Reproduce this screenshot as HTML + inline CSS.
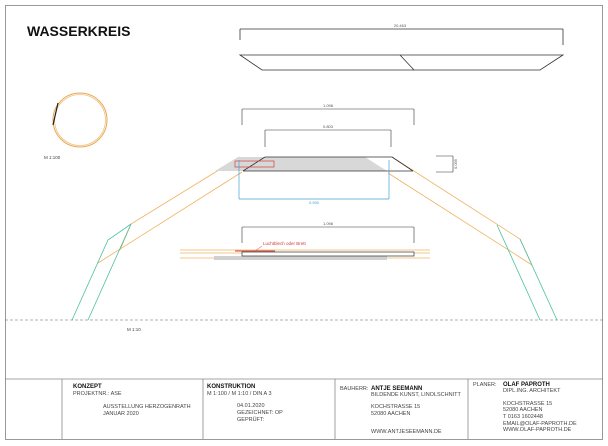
<!DOCTYPE html>
<html><head><meta charset="utf-8"><style>
body{margin:0;background:#fff;}
svg{display:block;font-family:"Liberation Sans",sans-serif;}
.s{font-size:5.5px;fill:#444;}
.b{font-size:6px;font-weight:bold;fill:#111;}
</style></head><body>
<svg width="608" height="446" viewBox="0 0 608 446">
<rect x="5.5" y="5.5" width="597" height="434" fill="none" stroke="#999" stroke-width="1"/>
<text x="27" y="36" font-size="14" font-weight="bold" fill="#111">WASSERKREIS</text>

<!-- top view parallelogram -->
<g stroke="#333" stroke-width="0.8" fill="none">
<line x1="240" y1="29" x2="563" y2="29"/>
<line x1="563" y1="29" x2="563" y2="45"/>
<line x1="240" y1="29" x2="240" y2="40"/>
<polygon points="240,55 563,55 540,70 262,70"/>
<line x1="400" y1="55" x2="414" y2="70"/>
</g>
<text x="400" y="27" font-size="4" fill="#555" text-anchor="middle">20.463</text>

<!-- circle -->
<circle cx="80" cy="120" r="27" fill="none" stroke="#e8a850" stroke-width="1"/>
<circle cx="80" cy="120" r="25.5" fill="none" stroke="#f0c080" stroke-width="0.8"/>
<line x1="58" y1="103" x2="53" y2="125" stroke="#222" stroke-width="1.2"/>
<text x="44" y="159" font-size="4.5" fill="#444">M 1:100</text>

<!-- dimensions -->
<g stroke="#333" stroke-width="0.6" fill="none">
<line x1="242" y1="109" x2="414" y2="109"/><line x1="242" y1="109" x2="242" y2="125"/><line x1="414" y1="109" x2="414" y2="125"/>
<line x1="265" y1="130" x2="391" y2="130"/><line x1="265" y1="130" x2="265" y2="147"/><line x1="391" y1="130" x2="391" y2="147"/>
<line x1="242" y1="227" x2="414" y2="227"/><line x1="242" y1="227" x2="242" y2="243"/><line x1="414" y1="227" x2="414" y2="243"/>
<line x1="436" y1="156" x2="453" y2="156"/><line x1="436" y1="172" x2="453" y2="172"/><line x1="453" y1="156" x2="453" y2="172"/>
</g>
<text x="328" y="107" font-size="4" fill="#555" text-anchor="middle">1.098</text>
<text x="328" y="128" font-size="4" fill="#555" text-anchor="middle">0.803</text>
<text x="328" y="225" font-size="4" fill="#555" text-anchor="middle">1.098</text>
<text x="457" y="164" font-size="4" fill="#555" transform="rotate(-90 457 164)" text-anchor="middle">0.095</text>

<!-- legs -->
<g fill="none" stroke-width="0.8">
<polyline points="240,157 131,224 120,250" stroke="#f0b060"/>
<line x1="242" y1="172" x2="98" y2="263" stroke="#f0b060"/>
<polyline points="72,320 108,240 131,224" stroke="#4cc0a0"/>
<line x1="88" y1="320" x2="131" y2="224" stroke="#4cc0a0"/>
<polyline points="392,157 520,239 532,265" stroke="#f0b060"/>
<line x1="388" y1="173" x2="532" y2="265" stroke="#f0b060"/>
<line x1="497" y1="225" x2="540" y2="320" stroke="#4cc0a0"/>
<line x1="520" y1="239" x2="557" y2="320" stroke="#4cc0a0"/>
</g>

<!-- plate section -->
<polygon points="238,157 365,157 387,171 215,171" fill="#d8d8d8"/>
<g stroke="#333" stroke-width="0.8" fill="none">
<line x1="265" y1="157" x2="392" y2="157"/>
<line x1="243" y1="171" x2="413" y2="171"/>
<line x1="265" y1="157" x2="243" y2="171"/>
<line x1="392" y1="157" x2="413" y2="171"/>
</g>
<rect x="235" y="161" width="39" height="6" fill="none" stroke="#d04040" stroke-width="0.7"/>
<g stroke="#40a0d0" stroke-width="0.7" fill="none">
<line x1="239" y1="160" x2="239" y2="199"/><line x1="389" y1="160" x2="389" y2="199"/>
<line x1="239" y1="199" x2="389" y2="199"/>
</g>
<text x="314" y="204" font-size="4" fill="#40a0d0" text-anchor="middle">0.930</text>

<!-- lower section -->
<g stroke="#f0b060" stroke-width="0.7">
<line x1="180" y1="250" x2="430" y2="250"/>
<line x1="180" y1="253" x2="430" y2="253"/>
<line x1="180" y1="258" x2="430" y2="258"/>
</g>
<rect x="214" y="256" width="173" height="4" fill="#d0d0d0"/>
<rect x="242" y="252" width="172" height="4" fill="#fff" stroke="#333" stroke-width="0.7"/>
<line x1="235" y1="251" x2="275" y2="251" stroke="#d04040" stroke-width="1"/>
<line x1="255" y1="251" x2="262" y2="246" stroke="#d04040" stroke-width="0.5"/>
<text x="263" y="245" font-size="4.5" fill="#d04040">Luchtblech oder Brett</text>

<line x1="5" y1="320" x2="603" y2="320" stroke="#666" stroke-width="0.6" stroke-dasharray="3,2"/>
<text x="127" y="331" font-size="4.5" fill="#444">M 1:10</text>

<!-- title block -->
<g stroke="#888" stroke-width="0.8">
<line x1="5" y1="379" x2="603" y2="379"/>
<line x1="62" y1="379" x2="62" y2="439"/>
<line x1="203" y1="379" x2="203" y2="439"/>
<line x1="335" y1="379" x2="335" y2="439"/>
<line x1="468" y1="379" x2="468" y2="439"/>
</g>
<text x="73" y="388" class="b">KONZEPT</text>
<text x="73" y="395" class="s">PROJEKTNR.: ASE</text>
<text x="103" y="408" class="s">AUSSTELLUNG HERZOGENRATH</text>
<text x="103" y="415" class="s">JANUAR 2020</text>
<text x="207" y="388" class="b">KONSTRUKTION</text>
<text x="207" y="395" class="s">M 1:100 / M 1:10 / DIN A 3</text>
<text x="237" y="407" class="s">04.01.2020</text>
<text x="237" y="414" class="s">GEZEICHNET: OP</text>
<text x="237" y="421" class="s">GEPRÜFT:</text>
<text x="340" y="390" class="s">BAUHERR:</text>
<text x="371" y="390" class="b">ANTJE SEEMANN</text>
<text x="371" y="396" class="s">BILDENDE KUNST, LINOLSCHNITT</text>
<text x="371" y="408" class="s">KOCHSTRASSE 15</text>
<text x="371" y="415" class="s">52080 AACHEN</text>
<text x="371" y="433" class="s">WWW.ANTJESEEMANN.DE</text>
<text x="473" y="386" class="s">PLANER:</text>
<text x="503" y="386" class="b">OLAF PAPROTH</text>
<text x="503" y="392" class="s">DIPL.ING. ARCHITEKT</text>
<text x="503" y="405" class="s">KOCHSTRASSE 15</text>
<text x="503" y="411" class="s">52080 AACHEN</text>
<text x="503" y="418" class="s">T 0163 1602448</text>
<text x="503" y="425" class="s">EMAIL@OLAF-PAPROTH.DE</text>
<text x="503" y="431" class="s">WWW.OLAF-PAPROTH.DE</text>
</svg>
</body></html>
